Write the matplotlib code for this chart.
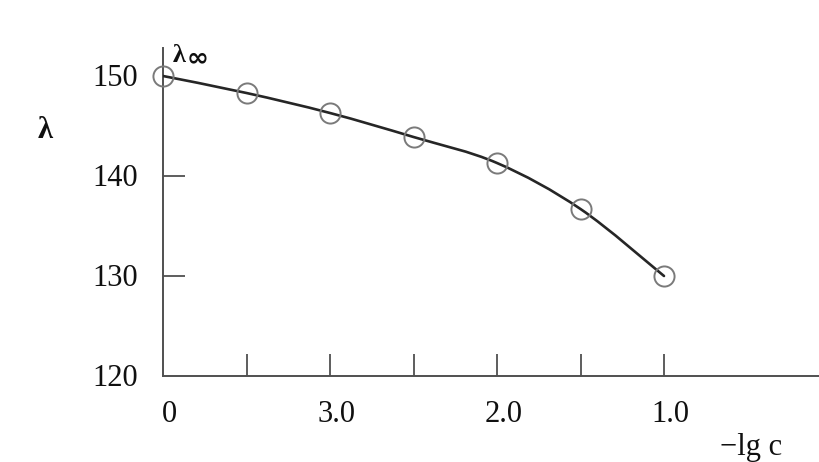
import numpy as np
import matplotlib
matplotlib.use("Agg")
import matplotlib.pyplot as plt
from matplotlib.path import Path
from matplotlib.patches import PathPatch

# Axis positions along -lg c (the leftmost point stands for infinite dilution, λ∞)
x_pos = [4.0, 3.5, 3.0, 2.5, 2.0, 1.5, 1.0]
conductivity = [150.0, 148.3, 146.3, 143.9, 141.3, 136.7, 130.0]

x_ticks = [4.0, 3.5, 3.0, 2.5, 2.0, 1.5, 1.0]
x_tick_labels = ["0", "", "3.0", "", "2.0", "", "1.0"]
y_ticks = [130, 140]
y_label_values = [120, 130, 140, 150]

plt.rcParams["font.family"] = ["Liberation Serif", "DejaVu Serif"]
ink = "#262626"
text_col = "#101010"
axis_col = "#505050"

fig = plt.figure(figsize=(8.19, 4.62), dpi=100)
ax = fig.add_axes([163 / 819, 86 / 462, 1 - 163 / 819, (376 - 48) / 462])
ax.set_xlim(4.0, 4.0 - 656 / 167)
ax.set_ylim(120, 152.8)

for side in ("top", "right"):
    ax.spines[side].set_visible(False)
for side in ("left", "bottom"):
    ax.spines[side].set_color(axis_col)
    ax.spines[side].set_linewidth(1.4)

ax.set_xticks(x_ticks[1:])
ax.set_xticklabels([])
ax.set_yticks(y_ticks)
ax.set_yticklabels([])
ax.tick_params(axis="both", direction="in", length=16, width=1.3, color=axis_col)

# Smooth curve through the measured points (Catmull-Rom as cubic Bezier segments)
pts = np.column_stack([x_pos, conductivity])
verts = [tuple(pts[0])]
codes = [Path.MOVETO]
for i in range(len(pts) - 1):
    p0 = pts[i - 1] if i > 0 else pts[i]
    p1, p2 = pts[i], pts[i + 1]
    p3 = pts[i + 2] if i + 2 < len(pts) else pts[i + 1]
    c1 = p1 + (p2 - p0) / 6.0
    c2 = p2 - (p3 - p1) / 6.0
    verts += [tuple(c1), tuple(c2), tuple(p2)]
    codes += [Path.CURVE4] * 3
ax.add_patch(PathPatch(Path(verts, codes), facecolor="none", edgecolor=ink,
                       lw=1.9, zorder=3, capstyle="round", joinstyle="round"))

ax.plot(x_pos, conductivity, linestyle="none", marker="o", markersize=14.5,
        markerfacecolor="none", markeredgecolor="#7a7a7a", markeredgewidth=1.4,
        zorder=4, clip_on=False)

# Tick labels
for xv, lab in zip(x_ticks, x_tick_labels):
    if lab:
        ax.text(xv - 0.04, 116.2, lab, ha="center", va="center", fontsize=22,
                color=text_col, clip_on=False)
for yv in y_label_values:
    ax.text(4.0 + 25 / 167, yv - 0.2, str(yv), ha="right", va="center",
            fontsize=22, color=text_col, clip_on=False)

# Axis titles
fig.text(45 / 819, 1 - 130 / 462, "λ", ha="center", va="center",
         fontsize=22, color=text_col, fontweight="bold")
fig.text(173 / 819, 1 - 55 / 462, "λ", ha="left", va="center",
         fontsize=19, color=text_col, fontweight="bold")
fig.text(187 / 819, 1 - 58 / 462, "∞", ha="left", va="center",
         fontsize=19, color=text_col, fontweight="bold", family=["DejaVu Sans"])
fig.text(751 / 819, 1 - 447 / 462, "−lg c", ha="center", va="center",
         fontsize=22, color=text_col)

fig.savefig("out.png", dpi=100, facecolor="white")
